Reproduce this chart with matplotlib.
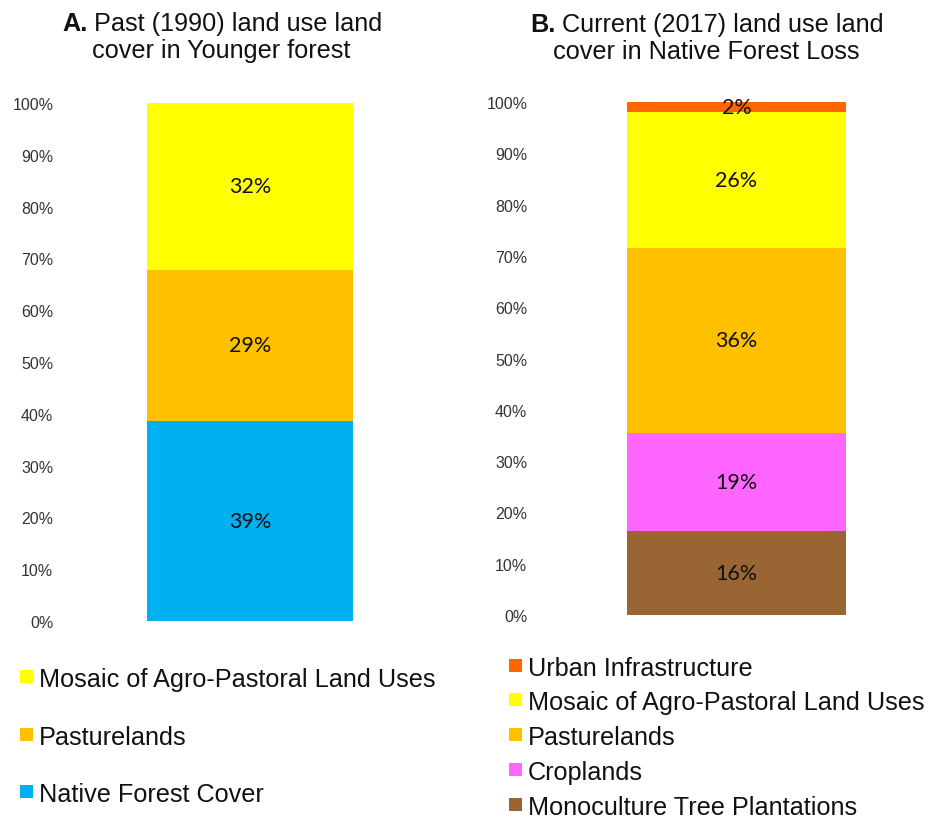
import matplotlib.pyplot as plt
from matplotlib.patches import Rectangle

# data (shares of each bar, bottom to top)
cats_a = ["Native Forest Cover", "Pasturelands", "Mosaic of Agro-Pastoral Land Uses"]
vals_a = [38.6, 29.2, 32.2]
cols_a = ["#00B0F0", "#FFC000", "#FFFF00"]

cats_b = ["Monoculture Tree Plantations", "Croplands", "Pasturelands",
          "Mosaic of Agro-Pastoral Land Uses", "Urban Infrastructure"]
vals_b = [16.3, 19.2, 36.1, 26.4, 2.0]
cols_b = ["#996633", "#FF66FF", "#FFC000", "#FFFF00", "#FF6600"]

W, H = 930, 820
fig = plt.figure(figsize=(W / 100, H / 100), dpi=100)
plt.rcParams['font.family'] = ['Liberation Sans', 'DejaVu Sans']


def px(x, y):
    # pixel (from top-left) -> figure fraction
    return x / W, 1 - y / H


def stacked(rect, vals, cols, barw, pad):
    ax = fig.add_axes(rect)
    bottom = 0
    for v, c in zip(vals, cols):
        ax.bar(0, v, width=barw, bottom=bottom, color=c, edgecolor='none')
        ax.text(0, bottom + v / 2, f"{round(v)}%", ha='center', va='center',
                fontsize=15.5, family=['Lato', 'DejaVu Sans'], color='#111111')
        bottom += v
    ax.set_xlim(-0.5, 0.5)
    ax.set_ylim(0, 100)
    ax.set_yticks(range(0, 101, 10))
    ax.set_yticklabels([f"{t}%" for t in range(0, 101, 10)])
    ax.tick_params(axis='y', length=0, pad=pad, labelsize=11.5, labelcolor='#333333')
    ax.set_xticks([])
    for s in ax.spines.values():
        s.set_visible(False)
    return ax


stacked([70 / W, (H - 622) / H, 360 / W, 518 / H], vals_a, cols_a, 206 / 360, 12)
stacked([546 / W, (H - 616) / H, 381 / W, 513 / H], vals_b, cols_b, 219 / 381, 13.5)

# titles
tkw = dict(fontsize=18.2, va='baseline', ha='left', color='#111111')
fig.text(*px(62, 31), "A.", fontweight='bold', **tkw)
fig.text(*px(94, 31), "Past (1990) land use land", **tkw)
fig.text(*px(92, 58), "cover in Younger forest", **tkw)
fig.text(*px(530, 32), "B.", fontweight='bold', **tkw)
fig.text(*px(562, 32), "Current (2017) land use land", **tkw)
fig.text(*px(553, 59), "cover in Native Forest Loss", **tkw)


# legends
def legend(x, ys, cats, cols):
    for y, c, col in zip(ys, cats, cols):
        fig.add_artist(Rectangle(px(x, y - 3), 13 / W, 13 / H, transform=fig.transFigure,
                                 facecolor=col, edgecolor='none'))
        fig.text(*px(x + 19, y), c, fontsize=18.2, va='baseline', ha='left', color='#111111')


legend(20, [687, 745, 802], cats_a[::-1], cols_a[::-1])
legend(509, [676, 710, 745, 780, 815], cats_b[::-1], cols_b[::-1])

fig.savefig("out.png", dpi=100, facecolor='white')
